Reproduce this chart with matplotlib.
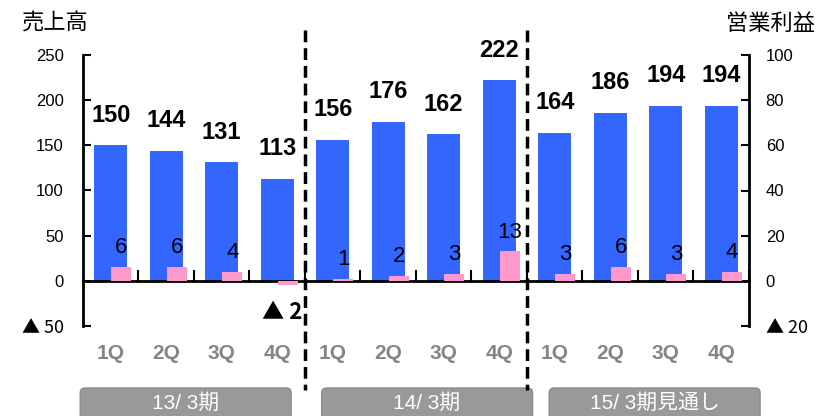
import matplotlib
matplotlib.use('Agg')
import matplotlib.pyplot as plt
import matplotlib.transforms as mtransforms
from matplotlib.patches import FancyBboxPatch
from matplotlib.lines import Line2D
import numpy as np

plt.rcParams['font.family'] = ['Liberation Sans', 'Noto Sans CJK JP', 'DejaVu Sans']
CJK = ['Noto Sans CJK JP', 'Liberation Sans']

# data
quarters = ['1Q', '2Q', '3Q', '4Q'] * 3
sales = [150, 144, 131, 113, 156, 176, 162, 222, 164, 186, 194, 194]
profit = [6, 6, 4, -2, 1, 2, 3, 13, 3, 6, 3, 4]
periods = ['13/ 3期', '14/ 3期', '15/ 3期見通し']
sales_ticks = [-50, 0, 50, 100, 150, 200, 250]
profit_ticks = [-20, 0, 20, 40, 60, 80, 100]


def fmt(v):
    return '▲ ' + str(abs(v)) if v < 0 else str(v)


W, H = 829, 416
fig = plt.figure(figsize=(W / 100, H / 100), dpi=100)
ax = fig.add_axes([83 / W, 1 - 326 / H, (749 - 83) / W, (326 - 55) / H])
ax2 = ax.twinx()

x = np.arange(len(sales))
ax.bar(x, sales, width=0.6, color='#3366FF', zorder=2)
ax2.bar(x + 0.19, profit, width=0.36, color='#FF99CC', zorder=2)

ax.set_xlim(-0.5, len(sales) - 0.5)
ax.set_ylim(-50, 250)
ax2.set_ylim(-20, 100)

# spines
for s in ['top', 'right']:
    ax.spines[s].set_visible(False)
for s in ['top', 'left', 'bottom']:
    ax2.spines[s].set_visible(False)
ax.spines['bottom'].set_position(('data', 0))
ax.spines['bottom'].set_linewidth(2)
ax.spines['left'].set_linewidth(2)
ax2.spines['right'].set_linewidth(2)

ax.set_xticks(np.arange(0.5, len(sales), 1))
ax.set_xticklabels([])
ax.tick_params(axis='x', direction='in', length=8, width=1.5)
ax.set_yticks(sales_ticks)
ax.set_yticklabels([fmt(v) for v in sales_ticks])
ax.tick_params(axis='y', direction='in', length=6, width=1.5, pad=14, labelsize=12)
ax2.set_yticks(profit_ticks)
ax2.set_yticklabels([fmt(v) for v in profit_ticks])
ax2.tick_params(axis='y', direction='in', length=6, width=1.5, pad=12, labelsize=12)
for lab in ax.get_yticklabels() + ax2.get_yticklabels():
    if lab.get_text().startswith('▲'):
        lab.set_fontfamily(CJK)
        lab.set_fontsize(13)

# value labels
for i, v in enumerate(sales):
    ax.annotate(str(v), (i, v), xytext=(0, 17), textcoords='offset points',
                ha='center', va='baseline', fontsize=17, fontweight='bold')
for i, v in enumerate(profit):
    if v >= 0:
        ax2.annotate(fmt(v), (i + 0.19, v), xytext=(0, 10),
                     textcoords='offset points', ha='center', va='baseline',
                     fontsize=16)
    else:
        ax2.annotate(fmt(v), (i + 0.19, v), xytext=(-4, -24),
                     textcoords='offset points', ha='center', va='baseline',
                     fontsize=16, fontweight='bold', family=CJK)

# quarter labels
qtrans = mtransforms.blended_transform_factory(ax.transData, ax.transAxes)
for i, q in enumerate(quarters):
    ax.text(i, -0.1, q, transform=qtrans, ha='center', va='center',
            color='#858585', fontsize=15, fontweight='bold')

# axis titles
fig.text(22 / W, 1 - 24 / H, '売上高', fontsize=16, ha='left', va='center')
fig.text(815 / W, 1 - 24 / H, '営業利益', fontsize=16, ha='right', va='center')

# dashed separators
dtrans = mtransforms.blended_transform_factory(ax.transData, fig.transFigure)
for b in [3.5, 7.5]:
    fig.add_artist(Line2D([b, b], [1 - 30 / H, 1 - 390 / H], transform=dtrans,
                          color='black', lw=2.5, ls=(0, (3.4, 1.7))))

# period boxes
box_left = [-0.55, 3.8, 7.9]
box_w = 3.8
to_fig = ax.transData + fig.transFigure.inverted()
top = 1 - 388 / H
for left, name in zip(box_left, periods):
    x0 = to_fig.transform((left, 0))[0]
    x1 = to_fig.transform((left + box_w, 0))[0]
    fig.add_artist(FancyBboxPatch((x0, -0.05), x1 - x0, top + 0.05,
                                  boxstyle='round,pad=0,rounding_size=0.006',
                                  mutation_aspect=W / H, transform=fig.transFigure,
                                  fc='#999999', ec='#8c8c8c', lw=1))
    fig.text((x0 + x1) / 2, 1 - 403 / H, name, color='white', fontsize=15,
             ha='center', va='center')

fig.savefig('out.png', dpi=100)
